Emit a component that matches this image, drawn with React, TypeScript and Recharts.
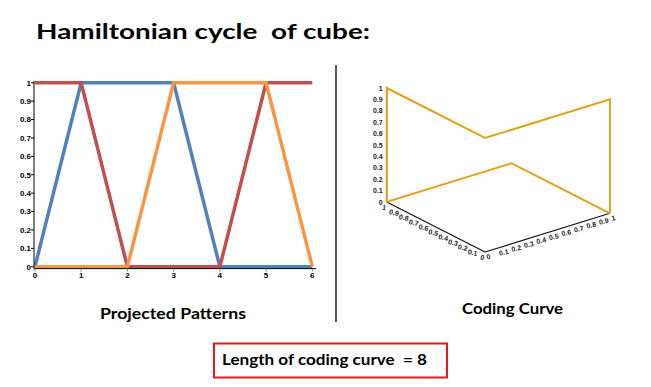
import { Line, LineChart, Scatter, ScatterChart, XAxis, YAxis } from 'recharts'

// one step of the cycle per column, one pattern per cube coordinate
const steps = [0, 1, 2, 3, 4, 5, 6]
const bluePattern = [0, 1, 1, 1, 0, 0, 0]
const redPattern = [1, 1, 0, 0, 0, 1, 1]
const orangePattern = [0, 0, 0, 1, 1, 1, 0]

const xTicks = [0, 1, 2, 3, 4, 5, 6]
const yTicks = [0, 0.1, 0.2, 0.3, 0.4, 0.5, 0.6, 0.7, 0.8, 0.9, 1]
const yTickLabels = ['0', '0.1', '0.2', '0.3', '0.4', '0.5', '0.6', '0.7', '0.8', '0.9', '1']

const cubeTicks = [0, 0.1, 0.2, 0.3, 0.4, 0.5, 0.6, 0.7, 0.8, 0.9, 1]
const cubeTickLabels = ['0', '0.1', '0.2', '0.3', '0.4', '0.5', '0.6', '0.7', '0.8', '0.9', '1']

const BLUE = '#4f81bd'
const RED = '#c0504d'
const ORANGE = '#f79646'
const GOLD = '#e3a21a'

// oblique view of the unit cube used by the coding curve panel
function proj(a: number, b: number, z: number) {
  return { x: -98.3 * a + 125 * b, y: 50 * a + 38.7 * b + 114 * z }
}

const patternRows = steps.map((step, i) => ({
  step,
  blue: bluePattern[i],
  red: redPattern[i],
  orange: orangePattern[i],
}))

const curve = steps.map((_, i) => proj(bluePattern[i], redPattern[i], orangePattern[i]))
const aAxis = [proj(1, 0, 0), proj(0, 0, 0)]
const bAxis = [proj(0, 0, 0), proj(0, 1, 0)]
const zAxis = [proj(1, 0, 0), proj(1, 0, 1)]
const zLabels = cubeTicks.map((v, i) => ({ ...proj(1, 0, v), label: cubeTickLabels[i] }))
const aLabels = cubeTicks.map((v, i) => ({ ...proj(v, 0, 0), label: cubeTickLabels[i] }))
const bLabels = cubeTicks.map((v, i) => ({ ...proj(0, v, 0), label: cubeTickLabels[i] }))

const tickFont = { fontSize: 8, fontWeight: 700, fill: '#000', fontFamily: 'Liberation Sans, Arial, sans-serif' }
const smallFont = { fontSize: 7, fontWeight: 700, fill: '#222', fontFamily: 'Liberation Sans, Arial, sans-serif' }

const noDot = () => <g />

function zLabel(props: any) {
  return (
    <text x={props.cx - 4} y={props.cy + 2.5} textAnchor="end" style={smallFont}>
      {props.payload.label}
    </text>
  )
}

function aLabel(props: any) {
  const x = props.cx - 3
  const y = props.cy + 8
  return (
    <text x={x} y={y} textAnchor="middle" transform={`rotate(12 ${x} ${y})`} style={smallFont}>
      {props.payload.label}
    </text>
  )
}

function bLabel(props: any) {
  const x = props.cx + 2
  const y = props.cy + 7.5
  return (
    <text x={x} y={y} textAnchor="start" transform={`rotate(-12 ${x} ${y})`} style={smallFont}>
      {props.payload.label}
    </text>
  )
}

const slideFont = 'Lato, "Open Sans", sans-serif'
const pre = { whiteSpace: 'pre' as const }

export default function App() {
  return (
    <div style={{ position: 'absolute', left: 0, top: 0, width: 651, height: 387, background: '#fff', overflow: 'hidden' }}>
      <svg width={651} height={387} style={{ position: 'absolute', left: 0, top: 0 }}>
        <text x={36} y={39} fontSize={21.5} fontWeight={700} fontFamily={slideFont} textLength={334} lengthAdjust="spacingAndGlyphs" style={pre}>
          Hamiltonian cycle  of cube:
        </text>
        <line x1={336} y1={65} x2={336} y2={322} stroke="#000" strokeWidth={1.3} />
        <text x={100} y={319} fontSize={15.5} fontWeight={700} fontFamily={slideFont} textLength={146} lengthAdjust="spacingAndGlyphs">
          Projected Patterns
        </text>
        <text x={462} y={314} fontSize={15.5} fontWeight={700} fontFamily={slideFont} textLength={101} lengthAdjust="spacingAndGlyphs">
          Coding Curve
        </text>
        <rect x={214} y={343.5} width={233} height={34} fill="none" stroke="#e8191c" strokeWidth={2} />
        <text x={222} y={365} fontSize={15.5} fontWeight={700} fontFamily={slideFont} textLength={205} lengthAdjust="spacingAndGlyphs" style={pre}>
          Length of coding curve  = 8
        </text>
      </svg>

      <div style={{ position: 'absolute', left: 0, top: 0 }}>
        <LineChart width={330} height={290} data={patternRows} margin={{ top: 80.9, right: 14, left: 4, bottom: 1.4 }}>
          <XAxis
            dataKey="step"
            type="number"
            domain={[-0.02, 6.08]}
            allowDataOverflow
            ticks={xTicks}
            tick={tickFont}
            tickSize={3}
            tickMargin={1}
            stroke="#000"
            tickLine={{ stroke: '#888' }}
            height={20}
          />
          <YAxis
            type="number"
            domain={[-0.01, 1.01]}
            allowDataOverflow
            ticks={yTicks}
            tickFormatter={(v: number) => yTickLabels[yTicks.indexOf(v)] ?? String(v)}
            tick={tickFont}
            tickSize={3}
            tickMargin={0}
            stroke="#000"
            tickLine={{ stroke: '#000' }}
            width={30}
          />
          <Line dataKey="blue" type="linear" stroke={BLUE} strokeWidth={3.5} dot={false} isAnimationActive={false} />
          <Line dataKey="red" type="linear" stroke={RED} strokeWidth={3.5} dot={false} isAnimationActive={false} />
          <Line dataKey="orange" type="linear" stroke={ORANGE} strokeWidth={3.5} dot={false} isAnimationActive={false} />
        </LineChart>
      </div>

      <div style={{ position: 'absolute', left: 355, top: 52 }}>
        <ScatterChart width={290} height={240} margin={{ top: 0, right: 0, left: 0, bottom: 0 }}>
          <XAxis dataKey="x" type="number" domain={[-130, 160]} allowDataOverflow hide />
          <YAxis dataKey="y" type="number" domain={[-40, 200]} allowDataOverflow hide />
          <Scatter data={aAxis} line={{ stroke: '#111', strokeWidth: 1.2 }} shape={noDot} isAnimationActive={false} />
          <Scatter data={bAxis} line={{ stroke: '#111', strokeWidth: 1.2 }} shape={noDot} isAnimationActive={false} />
          <Scatter data={zAxis} line={{ stroke: '#111', strokeWidth: 1.2 }} shape={noDot} isAnimationActive={false} />
          <Scatter data={curve} line={{ stroke: GOLD, strokeWidth: 2 }} shape={noDot} isAnimationActive={false} />
          <Scatter data={zLabels} shape={zLabel} isAnimationActive={false} />
          <Scatter data={aLabels} shape={aLabel} isAnimationActive={false} />
          <Scatter data={bLabels} shape={bLabel} isAnimationActive={false} />
        </ScatterChart>
      </div>
    </div>
  )
}
